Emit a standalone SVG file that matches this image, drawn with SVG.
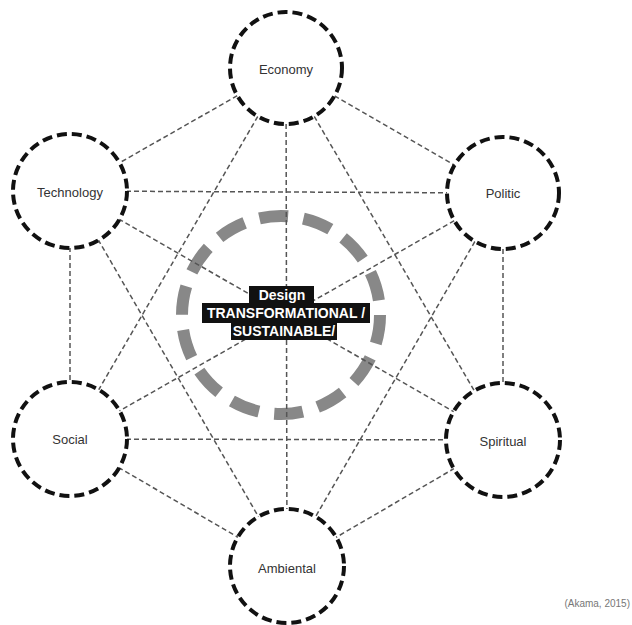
<svg xmlns="http://www.w3.org/2000/svg" width="632" height="625" viewBox="0 0 632 625">
<style>
.bg{fill:#ffffff}
.node{fill:#ffffff;stroke:#111111;stroke-width:4;stroke-dasharray:10 5}
.lbl{font-family:"Liberation Sans",Arial,sans-serif;font-size:13px;fill:#333333;text-anchor:middle}
.conn line{stroke:#555555;stroke-width:1.5;stroke-dasharray:5 3}
.ring{fill:none;stroke:#888888;stroke-width:12;stroke-dasharray:29 15.4}
.box{fill:#111111}
.btxt{font-family:"Liberation Sans",Arial,sans-serif;font-size:14px;font-weight:bold;fill:#ffffff;text-anchor:middle}
.cite{font-family:"Liberation Sans",Arial,sans-serif;font-size:10px;fill:#777777;text-anchor:end}
</style>
<rect class="bg" x="0" y="0" width="632" height="625"/>
<circle class="ring" cx="281" cy="315" r="99"/>
<g id="connectors" class="conn">
<line x1="286" y1="68" x2="70" y2="191"/>
<line x1="286" y1="68" x2="503" y2="193"/>
<line x1="286" y1="68" x2="70" y2="439"/>
<line x1="286" y1="68" x2="503" y2="440"/>
<line x1="286" y1="68" x2="287" y2="566"/>
<line x1="70" y1="191" x2="503" y2="193"/>
<line x1="70" y1="191" x2="70" y2="439"/>
<line x1="70" y1="191" x2="503" y2="440"/>
<line x1="70" y1="191" x2="287" y2="566"/>
<line x1="503" y1="193" x2="70" y2="439"/>
<line x1="503" y1="193" x2="503" y2="440"/>
<line x1="503" y1="193" x2="287" y2="566"/>
<line x1="70" y1="439" x2="503" y2="440"/>
<line x1="70" y1="439" x2="287" y2="566"/>
<line x1="503" y1="440" x2="287" y2="566"/>
</g>
<g id="center-label">
<rect class="box" x="249" y="286" width="65" height="17"/>
<rect class="box" x="202" y="303" width="168" height="20"/>
<rect class="box" x="231" y="323" width="106" height="17"/>
<text class="btxt" x="282" y="300">Design</text>
<text class="btxt" x="286" y="318">TRANSFORMATIONAL /</text>
<text class="btxt" x="284" y="336">SUSTAINABLE/</text>
</g>
<g id="economy"><circle class="node" cx="286" cy="68" r="56"/><text class="lbl" x="286" y="74">Economy</text></g>
<g id="technology"><circle class="node" cx="70" cy="191" r="57"/><text class="lbl" x="70" y="197">Technology</text></g>
<g id="politic"><circle class="node" cx="503" cy="193" r="56"/><text class="lbl" x="503" y="198">Politic</text></g>
<g id="social"><circle class="node" cx="70" cy="439" r="57"/><text class="lbl" x="70" y="444">Social</text></g>
<g id="spiritual"><circle class="node" cx="503" cy="440" r="57"/><text class="lbl" x="503" y="446">Spiritual</text></g>
<g id="ambiental"><circle class="node" cx="287" cy="566" r="57"/><text class="lbl" x="287" y="573">Ambiental</text></g>
<text class="cite" x="630" y="607">(Akama, 2015)</text>
</svg>
